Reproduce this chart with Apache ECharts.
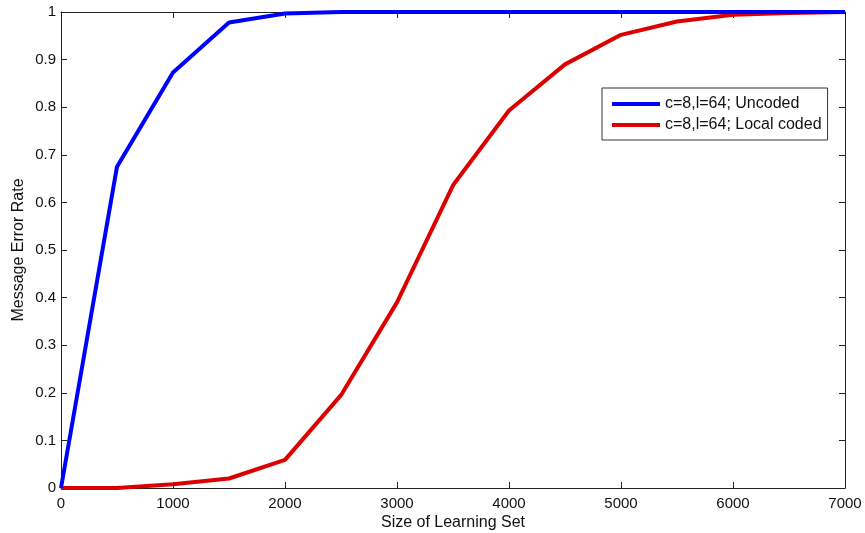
<!DOCTYPE html>
<html><head><meta charset="utf-8">
<script src="https://cdn.jsdelivr.net/npm/echarts@6/dist/echarts.min.js"></script>
<style>html,body{margin:0;padding:0;background:#fff}#c{width:865px;height:533px}</style>
</head><body><div id="c"></div>
<script>
var xValues = [0, 500, 1000, 1500, 2000, 2500, 3000, 3500, 4000, 4500, 5000, 5500, 6000, 6500, 7000];
var uncoded = [0, 0.675, 0.873, 0.978, 0.997, 1, 1, 1, 1, 1, 1, 1, 1, 1, 1];
var localCoded = [0, 0, 0.008, 0.02, 0.059, 0.195, 0.39, 0.636, 0.793, 0.89, 0.952, 0.98, 0.994, 0.998, 1];
var seriesNames = ['c=8,l=64; Uncoded', 'c=8,l=64; Local coded'];
var xTitle = 'Size of Learning Set';
var yTitle = 'Message Error Rate';

var font = 'Liberation Sans, Arial, Helvetica, sans-serif';
function pairs(ys){ return xValues.map(function(x,i){ return [x, ys[i]]; }); }
var tickStyle = {show:true, inside:true, length:6, lineStyle:{color:'#222', width:1}};
var lineStyle = {show:true, onZero:false, lineStyle:{color:'#222', width:1}};
var chart = echarts.init(document.getElementById('c'), null, {renderer:'canvas'});
chart.setOption({
  animation:false,
  textStyle:{fontFamily:font},
  grid:{left:61, right:20, top:12, bottom:45, containLabel:false, outerBoundsMode:'none'},
  graphic:[
    {type:'text', x:19, y:250, rotation:Math.PI/2,
     style:{text:yTitle, textAlign:'center', textVerticalAlign:'middle',
            font:'16px ' + font, fill:'#111'}}
  ],
  legend:{
    orient:'vertical', left:602, top:88,
    backgroundColor:'#fff', borderColor:'#333', borderWidth:1,
    padding:[8,6,7,10], itemGap:5, itemWidth:48, itemHeight:4,
    icon:'rect',
    textStyle:{fontFamily:font, fontSize:16, color:'#111'},
    data:seriesNames
  },
  xAxis:[
    {type:'value', min:0, max:7000, interval:1000, position:'bottom',
     name:xTitle, nameLocation:'middle', nameGap:27, nameMoveOverlap:false,
     nameTextStyle:{fontFamily:font, fontSize:16, color:'#111'},
     axisLine:lineStyle, axisTick:tickStyle, splitLine:{show:false},
     axisLabel:{fontFamily:font, fontSize:15, color:'#111', margin:8,
       formatter:function(v){ return String(v); }}},
    {type:'value', min:0, max:7000, interval:1000, position:'top',
     axisLine:lineStyle, axisTick:tickStyle, splitLine:{show:false}, axisLabel:{show:false}}
  ],
  yAxis:[
    {type:'value', min:0, max:1, interval:0.1, position:'left',
     axisLine:lineStyle, axisTick:tickStyle, splitLine:{show:false},
     axisLabel:{fontFamily:font, fontSize:15, color:'#111', margin:5,
       formatter:function(v){ return String(Math.round(v*10)/10); }}},
    {type:'value', min:0, max:1, interval:0.1, position:'right',
     axisLine:lineStyle, axisTick:tickStyle, splitLine:{show:false}, axisLabel:{show:false}}
  ],
  series:[
    {name:seriesNames[0], type:'line', data:pairs(uncoded), showSymbol:false, symbol:'none',
     lineStyle:{color:'#0000ff', width:4}, itemStyle:{color:'#0000ff'}, z:3},
    {name:seriesNames[1], type:'line', data:pairs(localCoded), showSymbol:false, symbol:'none',
     lineStyle:{color:'#dd0000', width:4}, itemStyle:{color:'#dd0000'}, z:2}
  ]
});
</script></body></html>
